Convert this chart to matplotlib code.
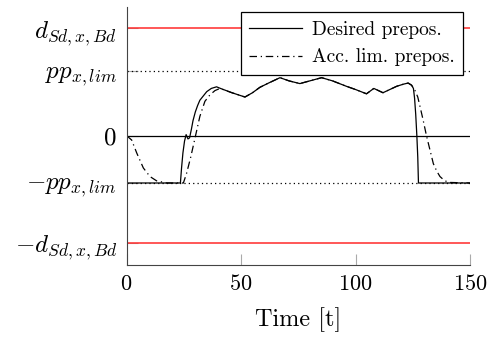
import matplotlib
matplotlib.use('Agg')
import matplotlib.pyplot as plt

# ----------------------------------------------------------- data --------------------------------------------------------
d_lim = 1.0          # d_Sd,x,Bd
pp_up = 0.60         # pp_x,lim
pp_low = -0.44       # -pp_x,lim

x_ticks = [0, 50, 100, 150]
y_ticks = [-d_lim, pp_low, 0.0, pp_up, d_lim]
y_tick_labels = [r'$-d_{Sd,x,Bd}$', r'$-pp_{x,lim}$', r'$0$', r'$pp_{x,lim}$', r'$d_{Sd,x,Bd}$']

t_des = [0, 23.5, 24.0, 24.6, 25.3, 26.0, 26.8, 27.5, 28.3, 29.0, 30.0, 31.0, 32.0, 33.5, 35.0, 37.0,
         39.3, 41, 46, 51.7, 55, 58.2, 62, 67, 71, 75.7, 80, 85.2, 90, 96, 100, 104.8, 108, 112,
         115, 118, 121, 123, 124.5, 125.3, 125.8, 126.3, 126.8, 127.2, 127.5, 150]
y_des = [-0.44, -0.44, -0.30, -0.16, -0.05, 0.01, -0.03, -0.02, 0.06, 0.14, 0.22, 0.28, 0.33, 0.37, 0.41, 0.44,
         0.455, 0.44, 0.40, 0.36, 0.40, 0.45, 0.49, 0.54, 0.51, 0.485, 0.51, 0.54, 0.51, 0.46, 0.43, 0.39, 0.44, 0.40,
         0.43, 0.46, 0.48, 0.49, 0.47, 0.44, 0.35, 0.20, 0.0, -0.20, -0.44, -0.44]

t_acc = [0, 2.2, 4.4, 7.3, 10.2, 13.1, 17.5, 24.8, 26.2, 28.0, 29.9, 32.0, 34.2, 36.4, 38.6, 40.8,
         46, 51.7, 55, 58.2, 62, 67, 71, 75.7, 80, 85.2, 90, 96, 100, 104.8, 108, 112,
         115, 118, 121, 123, 124.5, 126.0, 127.2, 128.2, 129.6, 131.0, 132.5, 134.0, 135.5, 136.9, 139.0, 141.3, 150]
y_acc = [0.0, -0.04, -0.16, -0.30, -0.38, -0.42, -0.44, -0.44, -0.35, -0.20, -0.02, 0.18, 0.32, 0.38, 0.42, 0.44,
         0.40, 0.36, 0.40, 0.45, 0.49, 0.54, 0.51, 0.485, 0.51, 0.54, 0.51, 0.46, 0.43, 0.39, 0.44, 0.40,
         0.43, 0.46, 0.48, 0.49, 0.47, 0.42, 0.36, 0.27, 0.14, 0.0, -0.13, -0.26, -0.33, -0.38, -0.42, -0.435, -0.44]

# ----------------------------------------------------------- style -------------------------------------------------------
plt.rcParams['mathtext.fontset'] = 'cm'
plt.rcParams['font.family'] = 'serif'
plt.rcParams['font.serif'] = ['cmr10']
plt.rcParams['axes.formatter.use_mathtext'] = True

fig = plt.figure(figsize=(4.87, 3.38), dpi=100)
ax = fig.add_axes([0.260, 0.217, 0.705, 0.763])

# reference levels
ax.axhline(d_lim, color='#ff2a2a', lw=1.1)
ax.axhline(-d_lim, color='#ff2a2a', lw=1.1)
ax.axhline(pp_up, color='black', lw=0.9, ls=(0, (1, 2.5)))
ax.axhline(pp_low, color='black', lw=0.9, ls=(0, (1, 2.5)))
ax.axhline(0, color='black', lw=0.9)

# curves
ax.plot(t_des, y_des, color='black', lw=0.9, label='Desired prepos.')
ax.plot(t_acc, y_acc, color='black', lw=0.9, ls=(0, (6, 3, 1, 3)), label='Acc. lim. prepos.')

ax.set_xlim(0, 150)
ax.set_ylim(-1.2, 1.2)
ax.set_xticks(x_ticks)
ax.set_yticks(y_ticks)
ax.set_yticklabels(y_tick_labels)
ax.set_xlabel('Time [t]', fontsize=17.5, labelpad=9)

ax.spines['top'].set_visible(False)
ax.spines['right'].set_visible(False)
ax.spines['left'].set_color('#444444')
ax.spines['bottom'].set_color('#444444')
ax.tick_params(direction='in', length=8, color='#aaaaaa', pad=7)
ax.tick_params(axis='x', labelsize=16)
ax.tick_params(axis='y', labelsize=18)
ax.set_axisbelow(True)

leg = ax.legend(loc='upper right', bbox_to_anchor=(0.98, 0.98), borderaxespad=0, fancybox=False,
                edgecolor='black', framealpha=1, fontsize=14, handlelength=2.7, borderpad=0.45,
                labelspacing=0.5, handletextpad=0.5)
leg.get_frame().set_linewidth(0.9)

plt.savefig('out.png', dpi=100)
